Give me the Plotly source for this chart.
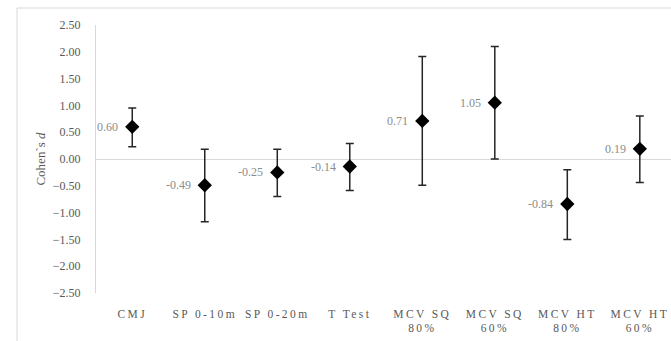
import plotly.graph_objects as go

categories = ["CMJ", "SP 0-10m", "SP 0-20m", "T Test", "MCV SQ<br>80%", "MCV SQ<br>60%", "MCV HT<br>80%", "MCV HT<br>60%"]
effect = [0.60, -0.49, -0.25, -0.14, 0.71, 1.05, -0.84, 0.19]
ci_upper = [0.95, 0.18, 0.18, 0.29, 1.91, 2.10, -0.20, 0.80]
ci_lower = [0.23, -1.17, -0.70, -0.59, -0.49, 0.00, -1.50, -0.44]
y_ticks = [-2.5, -2.0, -1.5, -1.0, -0.5, 0.0, 0.5, 1.0, 1.5, 2.0, 2.5]

err_plus = [u - v for u, v in zip(ci_upper, effect)]
err_minus = [v - l for v, l in zip(effect, ci_lower)]

FONT = "Liberation Serif"

fig = go.Figure()
fig.add_trace(go.Scatter(
    x=categories, y=effect,
    mode="markers",
    marker=dict(symbol="diamond", size=11, color="black"),
    error_y=dict(type="data", symmetric=False, array=err_plus, arrayminus=err_minus,
                 color="#262626", thickness=1.5, width=4),
    showlegend=False,
    cliponaxis=False,
))

annotations = [
    dict(x=c, y=v, xref="x", yref="y", text=f"{v:.2f}", showarrow=False,
         xanchor="right", yanchor="middle", xshift=-12,
         font=dict(family=FONT, size=12, color="#8c8c8c"))
    for c, v in zip(categories, effect)
]

fig.update_layout(
    width=671, height=341,
    margin=dict(l=96, r=0, t=25, b=48),
    paper_bgcolor="white", plot_bgcolor="white",
    font=dict(family=FONT, size=12, color="#595959"),
    annotations=annotations,
    xaxis=dict(
        type="category",
        range=[-0.5, 7.43],
        showgrid=False, zeroline=False, showline=False,
        ticks="", tickfont=dict(family=FONT, size=11.5, color="#595959"),
        ticklabelstandoff=12,
    ),
    yaxis=dict(
        range=[-2.5, 2.5],
        tickvals=y_ticks,
        tickformat=".2f",
        showgrid=False,
        zeroline=True, zerolinecolor="#d9d9d9", zerolinewidth=1,
        showline=True, linecolor="#d9d9d9", linewidth=1,
        ticks="", ticklabelstandoff=12,
        tickfont=dict(family=FONT, size=12, color="#595959"),
        title=dict(text="Cohen`s <i>d</i>", font=dict(family=FONT, size=13, color="#595959"), standoff=4),
    ),
    shapes=[
        dict(type="line", xref="paper", yref="paper",
             x0=(17 - 96) / 575, x1=1.01, y0=(341 - 48 - 8) / 268, y1=(341 - 48 - 8) / 268,
             line=dict(color="#d9d9d9", width=1)),
        dict(type="line", xref="paper", yref="paper",
             x0=(17 - 96) / 575, x1=(17 - 96) / 575, y0=(341 - 48 - 8) / 268, y1=-0.3,
             line=dict(color="#d9d9d9", width=1)),
    ],
)

post = """
var s = document.createElement('style');
s.textContent = '.xtick text { letter-spacing: 2.4px; }';
document.head.appendChild(s);
"""
fig.write_html("out.html", post_script=post)
